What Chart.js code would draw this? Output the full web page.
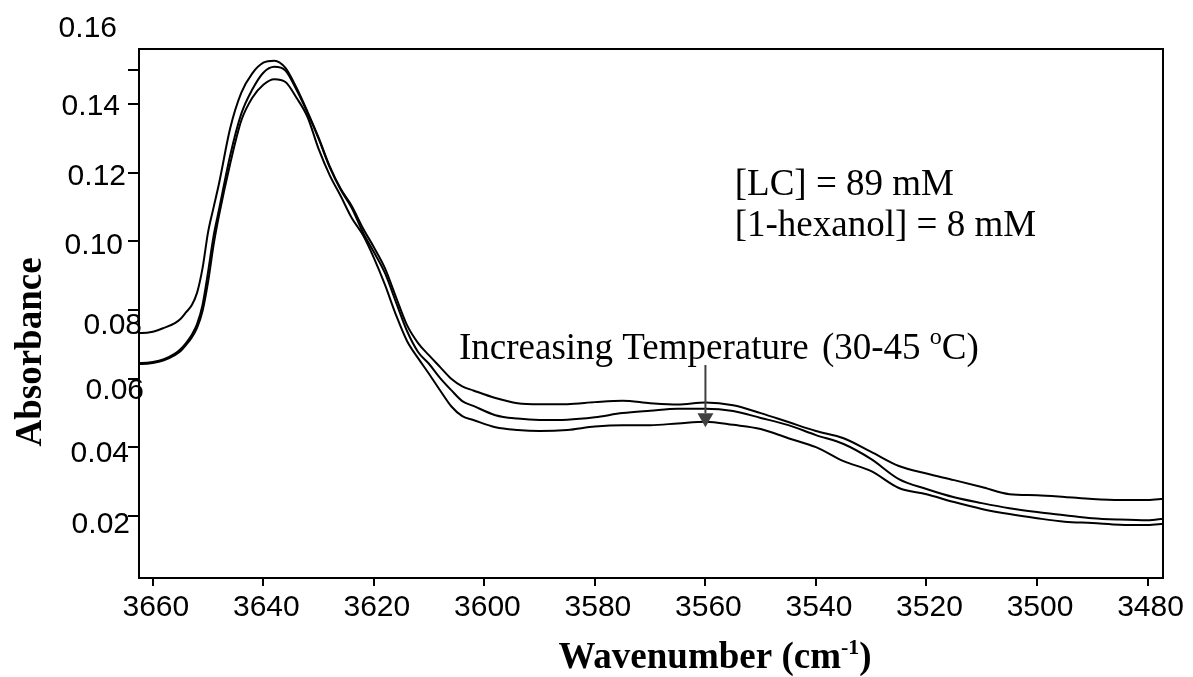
<!DOCTYPE html>
<html>
<head>
<meta charset="utf-8">
<title>Absorbance vs wavenumber</title>
<script src="https://cdn.jsdelivr.net/npm/chart.js@4.4.1/dist/chart.umd.min.js"></script>
<style>
  html, body { margin: 0; padding: 0; background: #fff; }
  #wrap { width: 1193px; height: 677px; }
</style>
</head>
<body>
<div id="wrap"><canvas id="spectrum" width="1193" height="677"></canvas></div>
<script>
// wavenumber grid (cm-1) shared by the three spectra
var wavenumbers = [3663, 3662, 3660, 3658, 3656, 3655, 3654, 3653, 3652, 3651, 3650, 3649, 3648,
  3646, 3644, 3642, 3640, 3638, 3636, 3634, 3632, 3630, 3628, 3626, 3624, 3622, 3620, 3618, 3616, 3614, 3612, 3610,
  3608, 3606, 3604, 3602, 3598, 3594, 3590,
  3585, 3580, 3575, 3570, 3565, 3560, 3555, 3550, 3545, 3540, 3535, 3530, 3525, 3520, 3515, 3510, 3505, 3500, 3495, 3490, 3485, 3480,
  3477];

// upper spectrum
var spectrum1 = [0.0733, 0.0733, 0.0737, 0.0748, 0.0762, 0.0774, 0.0793, 0.0813, 0.0850, 0.0922, 0.1027, 0.1099, 0.1170,
  0.1329, 0.1432, 0.1489, 0.1520, 0.1526, 0.1505, 0.1447, 0.1377, 0.1302, 0.1219, 0.1153, 0.1103, 0.1039, 0.0983, 0.0922, 0.0838, 0.0756, 0.0704, 0.0668,
  0.0634, 0.0600, 0.0578, 0.0566, 0.0544, 0.0529, 0.0526,
  0.0526, 0.0532, 0.0536, 0.0529, 0.0525, 0.0531, 0.0523, 0.0500, 0.0474, 0.0448, 0.0427, 0.0387, 0.0346, 0.0324, 0.0305, 0.0285, 0.0264, 0.0261, 0.0256, 0.0250, 0.0247, 0.0247,
  0.0251];

// middle spectrum
var spectrum2 = [0.0646, 0.0646, 0.0649, 0.0657, 0.0673, 0.0686, 0.0704, 0.0727, 0.0759, 0.0815, 0.0911, 0.1016, 0.1094,
  0.1250, 0.1371, 0.1442, 0.1491, 0.1508, 0.1497, 0.1441, 0.1374, 0.1299, 0.1216, 0.1150, 0.1097, 0.1027, 0.0969, 0.0908, 0.0823, 0.0739, 0.0678, 0.0643,
  0.0602, 0.0567, 0.0535, 0.0521, 0.0494, 0.0484, 0.0480,
  0.0481, 0.0488, 0.0500, 0.0507, 0.0513, 0.0513, 0.0506, 0.0486, 0.0465, 0.0436, 0.0410, 0.0366, 0.0308, 0.0279, 0.0255, 0.0238, 0.0223, 0.0212, 0.0203, 0.0194, 0.0190, 0.0188,
  0.0193];

// lower spectrum
var spectrum3 = [0.0643, 0.0643, 0.0646, 0.0654, 0.0669, 0.0680, 0.0698, 0.0719, 0.0748, 0.0797, 0.0882, 0.0990, 0.1077,
  0.1226, 0.1351, 0.1418, 0.1456, 0.1472, 0.1464, 0.1418, 0.1362, 0.1269, 0.1193, 0.1132, 0.1068, 0.1019, 0.0952, 0.0874, 0.0786, 0.0710, 0.0660, 0.0614,
  0.0566, 0.0520, 0.0491, 0.0480, 0.0459, 0.0451, 0.0448,
  0.0451, 0.0461, 0.0465, 0.0465, 0.0470, 0.0475, 0.0466, 0.0454, 0.0427, 0.0401, 0.0360, 0.0331, 0.0282, 0.0264, 0.0241, 0.0221, 0.0206, 0.0194, 0.0184, 0.0180, 0.0175, 0.0174,
  0.0178];

var xTicks = [3660, 3640, 3620, 3600, 3580, 3560, 3540, 3520, 3500, 3480];
var yTicks = [0.02, 0.04, 0.06, 0.08, 0.10, 0.12, 0.14, 0.15];
var yLabels = [0.02, 0.04, 0.06, 0.08, 0.10, 0.12, 0.14, 0.16];

var sansFont = '"Liberation Sans", Arial, sans-serif';
var serifFont = '"Liberation Serif", "Times New Roman", serif';

// where each y label sits: right edge and vertical nudge from its tick (the labels are not evenly placed)
var yLabelPlacement = {
  '0.02': { right: 130, dy: 9 },
  '0.04': { right: 129, dy: 6 },
  '0.06': { right: 144, dy: 12 },
  '0.08': { right: 142, dy: 16 },
  '0.10': { right: 123, dy: 4 },
  '0.12': { right: 126, dy: 4 },
  '0.14': { right: 120, dy: 3 },
  '0.16': { right: 117, dy: -7 }
};

function toPoints(values) {
  return wavenumbers.map(function (w, i) { return { x: w, y: values[i] }; });
}

function spectrumDataset(label, values) {
  return {
    label: label,
    data: toPoints(values),
    borderColor: '#000',
    borderWidth: 2,
    pointRadius: 0,
    fill: false,
    tension: 0.4,
    cubicInterpolationMode: 'monotone'
  };
}

// draw text made of pieces, some of them raised (superscripts)
function drawPieces(ctx, x, y, pieces) {
  var cx = x;
  pieces.forEach(function (p) {
    ctx.font = p.font;
    ctx.fillText(p.text, cx + (p.shift || 0), y - (p.rise || 0));
    cx += ctx.measureText(p.text).width + (p.shift || 0);
  });
}

function piecesWidth(ctx, pieces) {
  var w = 0;
  pieces.forEach(function (p) {
    ctx.font = p.font;
    w += ctx.measureText(p.text).width;
  });
  return w;
}

var notes = {
  conc: { x: 3554.7, y: 0.1135, lines: ['[LC] = 89 mM', '[1-hexanol] = 8 mM'], lineGap: 41 },
  trend: { x: 3604.6, y: 0.0657 },
  arrow: { x: 3560, from: 0.0640, to: 0.0459 }
};

var annotate = {
  id: 'annotate',
  afterDraw: function (chart) {
    var ctx = chart.ctx;
    var area = chart.chartArea;
    var xs = chart.scales.x;
    var ys = chart.scales.y;

    ctx.save();

    // close the box on top and right
    ctx.strokeStyle = '#000';
    ctx.lineWidth = 2;
    ctx.beginPath();
    ctx.moveTo(area.left, area.top);
    ctx.lineTo(area.right, area.top);
    ctx.lineTo(area.right, area.bottom);
    ctx.stroke();

    // y tick labels
    ctx.fillStyle = '#000';
    ctx.font = '30px ' + sansFont;
    ctx.textAlign = 'right';
    ctx.textBaseline = 'middle';
    yLabels.forEach(function (v) {
      var txt = v.toFixed(2);
      var place = yLabelPlacement[txt];
      ctx.fillText(txt, place.right, ys.getPixelForValue(v) + place.dy);
    });

    // axis titles
    ctx.textAlign = 'left';
    ctx.textBaseline = 'alphabetic';
    var xTitle = [
      { text: 'Wavenumber (cm', font: 'bold 37px ' + serifFont },
      { text: '-1', font: 'bold 22px ' + serifFont, rise: 14 },
      { text: ')', font: 'bold 37px ' + serifFont }
    ];
    var w = piecesWidth(ctx, xTitle);
    drawPieces(ctx, 715 - w / 2, 668, xTitle);

    ctx.save();
    ctx.translate(41, 352);
    ctx.rotate(-Math.PI / 2);
    ctx.font = 'bold 37px ' + serifFont;
    ctx.textAlign = 'center';
    ctx.fillText('Absorbance', 0, 0);
    ctx.restore();

    // concentration note
    ctx.font = '37px ' + serifFont;
    ctx.textAlign = 'left';
    var cx = xs.getPixelForValue(notes.conc.x);
    var cy = ys.getPixelForValue(notes.conc.y);
    notes.conc.lines.forEach(function (line, i) {
      ctx.fillText(line, cx, cy + i * notes.conc.lineGap);
    });

    // temperature trend label
    drawPieces(ctx, xs.getPixelForValue(notes.trend.x), ys.getPixelForValue(notes.trend.y), [
      { text: 'Increasing Temperature ', font: '37px ' + serifFont },
      { text: '(30-45 ', font: '37px ' + serifFont, shift: 4 },
      { text: 'o', font: '24px ' + serifFont, rise: 15 },
      { text: 'C)', font: '37px ' + serifFont }
    ]);

    // arrow pointing down through the spectra
    var ax = xs.getPixelForValue(notes.arrow.x);
    var ay0 = ys.getPixelForValue(notes.arrow.from);
    var ay1 = ys.getPixelForValue(notes.arrow.to);
    var head = 14;
    ctx.strokeStyle = '#404040';
    ctx.fillStyle = '#404040';
    ctx.lineWidth = 2;
    ctx.beginPath();
    ctx.moveTo(ax, ay0);
    ctx.lineTo(ax, ay1 - head);
    ctx.stroke();
    ctx.beginPath();
    ctx.moveTo(ax - 8, ay1 - head);
    ctx.lineTo(ax + 8, ay1 - head);
    ctx.lineTo(ax, ay1);
    ctx.closePath();
    ctx.fill();

    ctx.restore();
  }
};

new Chart(document.getElementById('spectrum'), {
  type: 'line',
  data: {
    datasets: [
      spectrumDataset('spectrum 1', spectrum1),
      spectrumDataset('spectrum 2', spectrum2),
      spectrumDataset('spectrum 3', spectrum3)
    ]
  },
  options: {
    responsive: false,
    animation: false,
    layout: { padding: { top: 49, right: 30, bottom: 0, left: 0 } },
    plugins: {
      legend: { display: false },
      tooltip: { enabled: false }
    },
    scales: {
      x: {
        type: 'linear',
        reverse: true,
        min: 3477.2,
        max: 3662.5,
        afterBuildTicks: function (scale) {
          scale.ticks = xTicks.map(function (v) { return { value: v }; });
        },
        afterFit: function (scale) { scale.height = 99; },
        grid: { drawOnChartArea: false, drawTicks: true, tickLength: 8, color: '#000', lineWidth: 2 },
        border: { color: '#000', width: 2 },
        ticks: {
          color: '#000',
          font: { family: sansFont, size: 30 },
          padding: 4,
          labelOffset: 3,
          maxRotation: 0,
          autoSkip: false,
          callback: function (v) { return String(v); }
        }
      },
      y: {
        min: 0.002,
        max: 0.156,
        afterBuildTicks: function (scale) {
          scale.ticks = yTicks.map(function (v) { return { value: v }; });
        },
        afterFit: function (scale) { scale.width = 139; },
        grid: { drawOnChartArea: false, drawTicks: true, tickLength: 11, color: '#000', lineWidth: 2 },
        border: { color: '#000', width: 2 },
        ticks: { display: false }
      }
    }
  },
  plugins: [annotate]
});
</script>
</body>
</html>
